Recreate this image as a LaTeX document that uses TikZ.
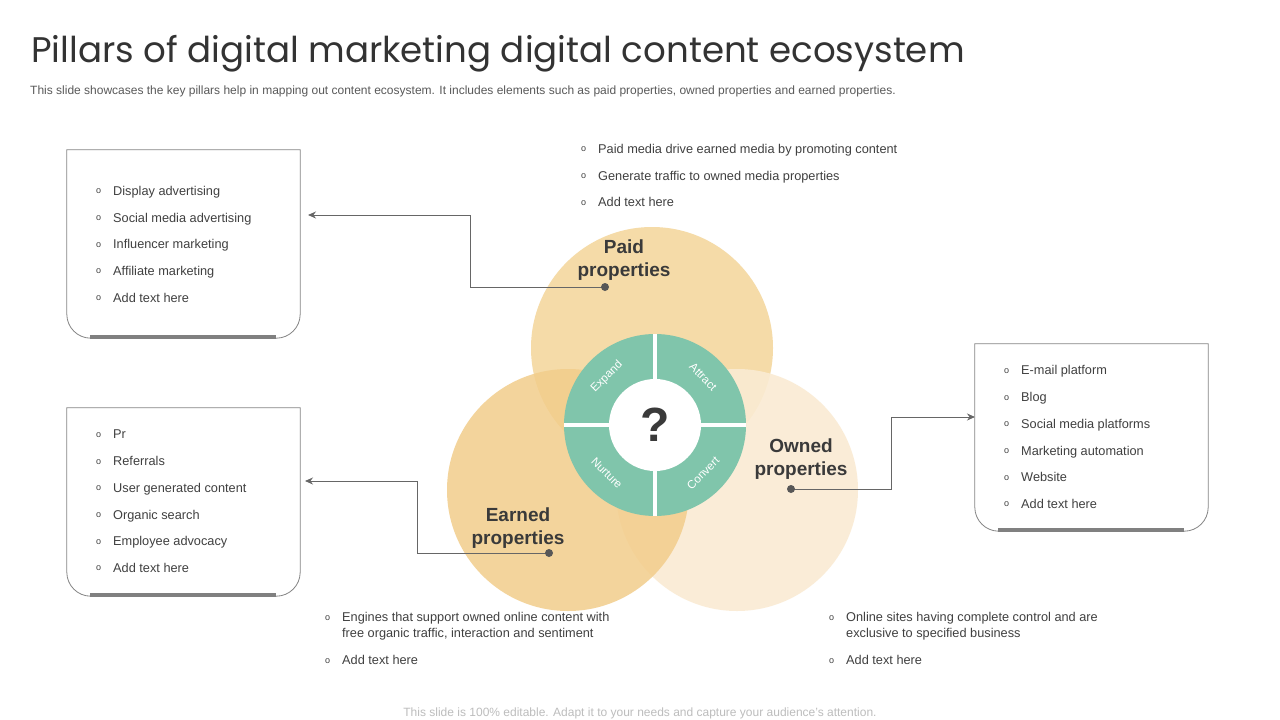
\documentclass[tikz,border=0pt]{standalone}
\usepackage{fontspec}
\setmainfont{Liberation Sans}
\newfontfamily\headfont{Poppins}
\usetikzlibrary{arrows.meta}
\pgfdeclarelayer{circlelayer}
\pgfdeclarelayer{edgelayer}
\pgfsetlayers{circlelayer,edgelayer,main}
\definecolor{paidfill}{HTML}{F5DBA8}
\definecolor{earnedfill}{HTML}{F2CD8B}
\definecolor{ownedfill}{HTML}{FAEBD3}
\definecolor{ringgreen}{HTML}{80C5AB}
\definecolor{titletext}{HTML}{333333}
\definecolor{subtext}{HTML}{595959}
\definecolor{foottext}{HTML}{BDBDBD}
\definecolor{labeltext}{HTML}{3A3A3A}
\definecolor{listtext}{HTML}{404040}
\definecolor{linegray}{HTML}{666666}
\definecolor{bargray}{HTML}{808080}
\tikzstyle{pillar}=[shape=circle, minimum size=242pt, inner sep=0pt]
\tikzstyle{pillar label}=[text=labeltext, align=center, font=\fontsize{19}{23}\selectfont\bfseries]
\tikzstyle{item list}=[anchor=north west, inner sep=0pt, align=left, text=listtext, font=\fontsize{12.75}{26.7}\selectfont]
\tikzstyle{frame}=[shape=rectangle, minimum width=233pt, minimum height=188pt, inner sep=0pt]
\tikzstyle{dot}=[shape=circle, fill=linegray!85!black, minimum size=8pt, inner sep=0pt]
\tikzstyle{leader}=[draw=linegray, line width=1pt, -{Stealth[length=8pt, width=7pt]}]
\tikzstyle{stage}=[text=white, inner sep=0pt, font=\fontsize{11.5}{12}\selectfont]
\tikzstyle{divider}=[draw=white, line width=4.5pt]
\newcommand{\bul}{\makebox[17pt][l]{\raisebox{1.6pt}{\fontsize{9}{9}\selectfont o}}}
\newcommand{\framepath}[1]{%
  \draw [draw=linegray!80, line width=0.8pt] (#1.north west) -- ([yshift=24pt]#1.south west)
    arc[start angle=180, end angle=270, radius=24pt] -- ([xshift=-24pt]#1.south east)
    arc[start angle=270, end angle=360, radius=24pt] -- (#1.north east) -- cycle;
  \draw [draw=bargray, line width=4pt] ([xshift=23pt, yshift=1.5pt]#1.south west) -- ([xshift=-24pt, yshift=1.5pt]#1.south east);}

\begin{document}
\begin{tikzpicture}[x=1pt, y=-1pt]
	\useasboundingbox (0,0) rectangle (1280,720);
	\begin{pgfonlayer}{circlelayer}
		\fill [white] (0,0) rectangle (1280,720);
		\node [style=pillar, fill=paidfill] (paid) at (652,348) {};
		\node [style=pillar, fill=ownedfill, fill opacity=0.9] (owned) at (737,490) {};
		\node [style=pillar, fill=earnedfill, fill opacity=0.85] (earned) at (568,490) {};
	\end{pgfonlayer}
	% heading
	\node [anchor=base west, inner sep=0pt, text=titletext, font=\headfont\fontsize{35.6}{40}\selectfont] (title) at (31,62.5) {Pillars of digital marketing digital content ecosystem};
	\node [anchor=base west, inner sep=0pt, text=subtext, font=\fontsize{12}{14}\selectfont] (subtitle) at (30,94) {This slide showcases the key pillars help in mapping out content ecosystem. It includes elements such as paid properties, owned properties and earned properties.};
	% centre ring
	\node [shape=circle, fill=ringgreen, minimum size=182pt, inner sep=0pt] (ring) at (655,425) {};
	\draw [style=divider] (ring.north) -- (ring.south);
	\draw [style=divider] (ring.west) -- (ring.east);
	\node [shape=circle, fill=white, minimum size=92pt, inner sep=0pt, text=labeltext, font=\fontsize{48}{48}\selectfont\bfseries] (hub) at (ring.center) {?};
	\node [style=stage, rotate=45] (expand) at ([shift={(135:68pt)}]ring.center) {Expand};
	\node [style=stage, rotate=-45] (attract) at ([shift={(45:68pt)}]ring.center) {Attract};
	\node [style=stage, rotate=-45] (nurture) at ([shift={(225:68pt)}]ring.center) {Nurture};
	\node [style=stage, rotate=45] (convert) at ([shift={(315:68pt)}]ring.center) {Convert};
	% pillar names
	\node [style=pillar label] (paidname) at (624,260.5) {Paid\\properties};
	\node [style=pillar label] (earnedname) at (518,528) {Earned\\properties};
	\node [style=pillar label] (ownedname) at (801,459) {Owned\\properties};
	\node [style=dot] (paiddot) at (605,287) {};
	\node [style=dot] (earneddot) at (549,553) {};
	\node [style=dot] (owneddot) at (791,489) {};
	% side boxes
	\node [style=frame] (paidframe) at (183.5,244) {};
	\node [style=frame] (earnedframe) at (183.5,502) {};
	\node [style=frame, minimum height=187pt] (ownedframe) at (1091.5,437.5) {};
	\framepath{paidframe}
	\framepath{earnedframe}
	\framepath{ownedframe}
	\node [style=item list] (paidlist) at (96,186) {\bul Display advertising\\ \bul Social media advertising\\ \bul Influencer marketing\\ \bul Affiliate marketing\\ \bul Add text here};
	\node [style=item list] (earnedlist) at (96,430) {\bul Pr\\ \bul Referrals\\ \bul User generated content\\ \bul Organic search\\ \bul Employee advocacy\\ \bul Add text here};
	\node [style=item list] (ownedlist) at (1004,365.5) {\bul E-mail platform\\ \bul Blog\\ \bul Social media platforms\\ \bul Marketing automation\\ \bul Website\\ \bul Add text here};
	\node [style=item list] (paidnotes) at (581,144) {\bul Paid media drive earned media by promoting content\\ \bul Generate traffic to owned media properties\\ \bul Add text here};
	\node [style=item list, font=\fontsize{12.75}{16}\selectfont] (earnednotes) at (325,612.5) {\bul Engines that support owned online content with\\ \hspace*{17pt}free organic traffic, interaction and sentiment\\[11pt] \bul Add text here};
	\node [style=item list, font=\fontsize{12.75}{16}\selectfont] (ownednotes) at (829,612.5) {\bul Online sites having complete control and are\\ \hspace*{17pt}exclusive to specified business\\[11pt] \bul Add text here};
	% leaders
	\coordinate (paidbend) at (470,215);
	\coordinate (paidtip) at (308,215);
	\coordinate (earnedbend) at (417,481);
	\coordinate (earnedtip) at (305,481);
	\coordinate (ownedbend) at (891,417);
	\coordinate (ownedtip) at (975,417);
	\begin{pgfonlayer}{edgelayer}
		\draw [style=leader] (paiddot.center) -| (paidbend) -- (paidtip);
		\draw [style=leader] (earneddot.center) -| (earnedbend) -- (earnedtip);
		\draw [style=leader] (owneddot.center) -| (ownedbend) -- (ownedtip);
	\end{pgfonlayer}
	\node [anchor=base, inner sep=0pt, text=foottext, font=\fontsize{12}{13}\selectfont] (footer) at (640,716) {This slide is 100\% editable. Adapt it to your needs and capture your audience's attention.};
\end{tikzpicture}
\end{document}
